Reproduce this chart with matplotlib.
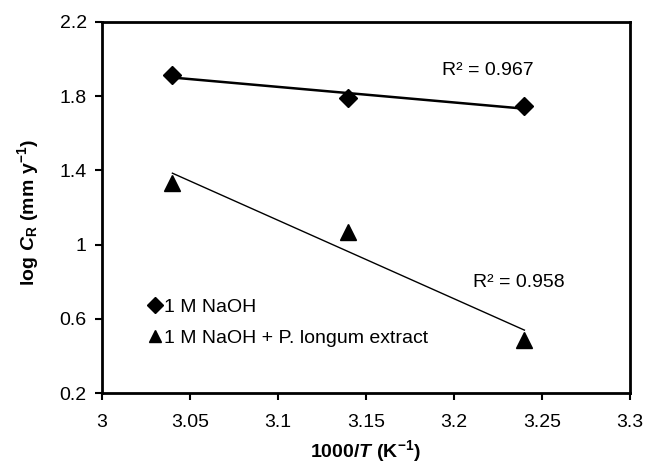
import numpy as np
import matplotlib
matplotlib.use("Agg")
import matplotlib.pyplot as plt

plt.rcParams['font.family'] = ['Liberation Sans', 'DejaVu Sans']
plt.rcParams['mathtext.fontset'] = 'custom'
plt.rcParams['mathtext.rm'] = 'Liberation Sans'
plt.rcParams['mathtext.it'] = 'Liberation Sans:italic:bold'
plt.rcParams['mathtext.bf'] = 'Liberation Sans:bold'

inv_t = [3.04, 3.14, 3.24]
naoh = [1.914, 1.790, 1.746]
naoh_extract = [1.332, 1.068, 0.486]
r2_naoh = "R² = 0.967"
r2_extract = "R² = 0.958"

fig = plt.figure(figsize=(6.45, 4.76), dpi=100)
ax = fig.add_axes([102 / 645, 1 - 393 / 476, 528 / 645, 371 / 476])

x = np.array(inv_t)
p1 = np.polyfit(x, naoh, 1)
p2 = np.polyfit(x, naoh_extract, 1)
ax.plot(x[[0, -1]], np.polyval(p1, x[[0, -1]]), color='black', lw=1.8, zorder=2)
ax.plot(x[[0, -1]], np.polyval(p2, x[[0, -1]]), color='black', lw=1.0, zorder=2)

ax.plot(inv_t, naoh, 'D', color='black', ms=9, ls='none', label='1 M NaOH', zorder=3)
ax.plot(inv_t, naoh_extract, '^', color='black', ms=11, ls='none',
        label='1 M NaOH + P. longum extract', zorder=3)

ax.text(3.219, 1.94, r2_naoh, fontsize=14, ha='center', va='center')
ax.text(3.237, 0.795, r2_extract, fontsize=14, ha='center', va='center')

ax.set_xlim(3, 3.3)
ax.set_ylim(0.2, 2.2)
ax.set_xticks([3, 3.05, 3.1, 3.15, 3.2, 3.25, 3.3])
ax.set_xticklabels(['3', '3.05', '3.1', '3.15', '3.2', '3.25', '3.3'])
ax.set_yticks([0.2, 0.6, 1.0, 1.4, 1.8, 2.2])
ax.set_yticklabels(['0.2', '0.6', '1', '1.4', '1.8', '2.2'])
ax.tick_params(labelsize=14, width=1.5, length=5, direction='out', pad=6)
ax.tick_params(axis='x', pad=10)
for s in ax.spines.values():
    s.set_linewidth(2)

ax.set_xlabel(r'$\mathbf{1000/}\mathit{T}\ \mathbf{(K^{-1})}$', fontsize=14)
ax.set_ylabel(r'$\mathbf{log}\ \mathit{C}_{\mathbf{R}}\ \mathbf{(mm\ y^{-1})}$', fontsize=14)
ax.xaxis.set_label_coords((365 - 102) / 528, -(438 - 393) / 371)
ax.yaxis.set_label_coords(-(102 - 41) / 528, (393 - 213) / 371)

ax.legend(loc='lower left', bbox_to_anchor=(0.075, 0.103), frameon=False, fontsize=14,
          handlelength=0.6, handletextpad=0.15, labelspacing=0.7, markerscale=0.85,
          borderaxespad=0)

fig.savefig('out.png', dpi=100)
